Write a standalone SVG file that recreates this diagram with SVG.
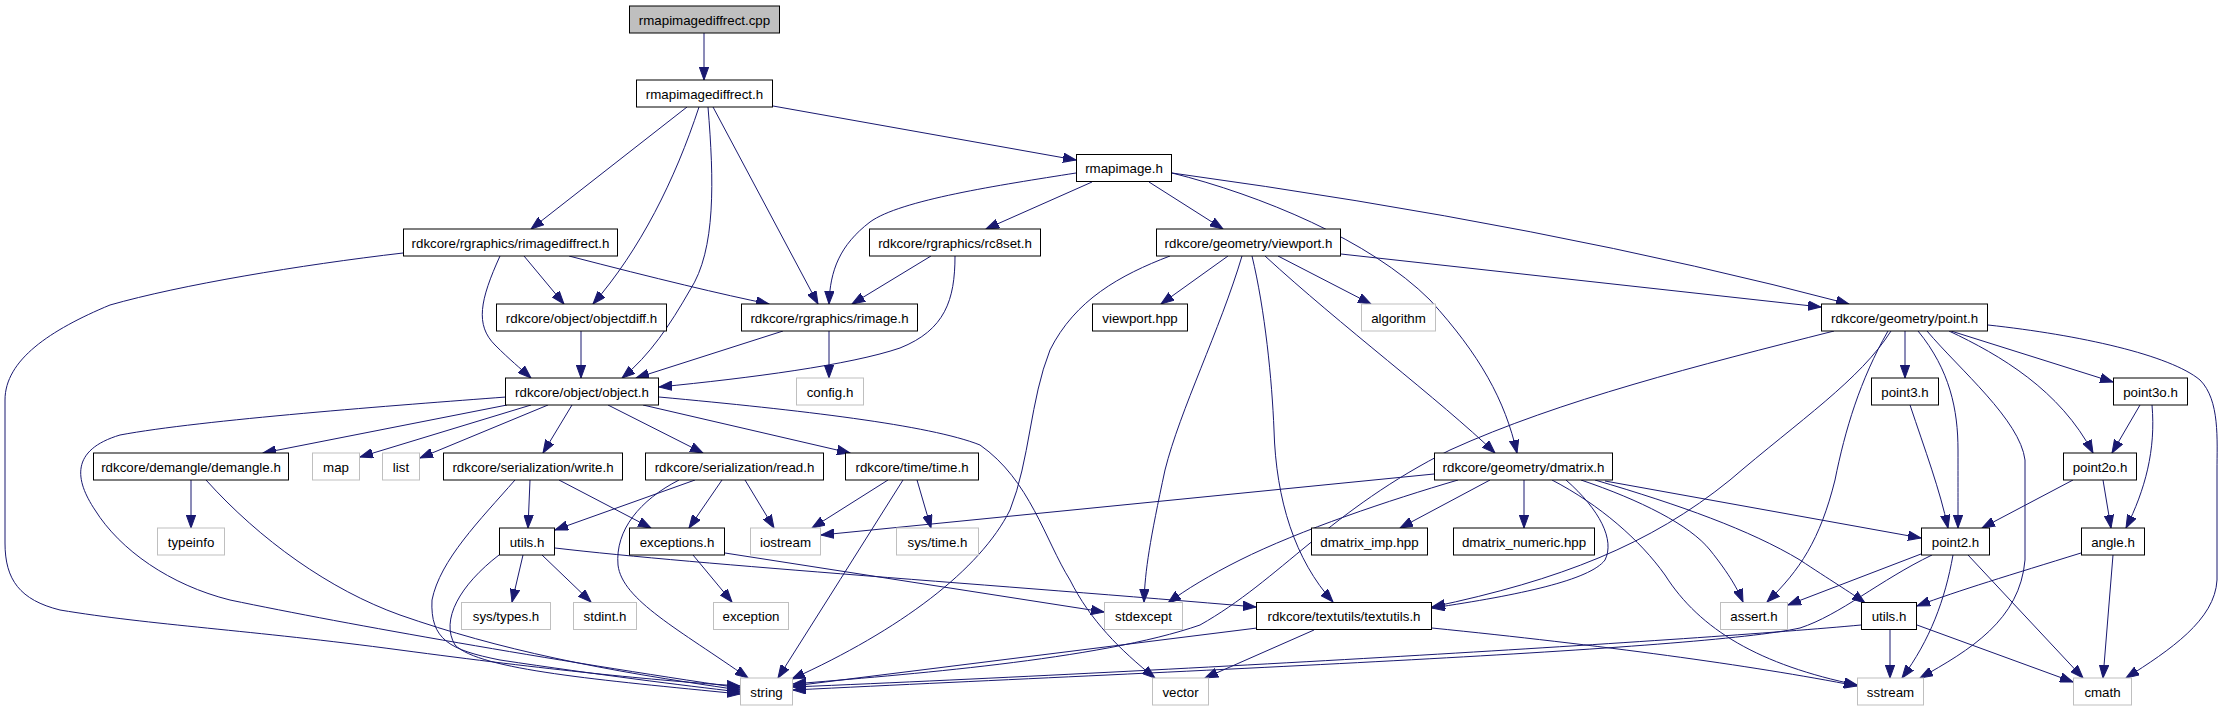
<svg xmlns="http://www.w3.org/2000/svg" width="2235" height="709" viewBox="0 0 2235 709">
<defs>
<style>
.n rect{fill:#fff;stroke:#000;stroke-width:1}
.x rect{stroke:#bfbfbf}
.r rect{fill:#bfbfbf}
text{font-family:"Liberation Sans",Arial,sans-serif;font-size:13.3px;text-anchor:middle;fill:#000}
#edges path{fill:none;stroke:#191970;stroke-width:1;marker-end:url(#a)}
</style>
<marker id="a" markerUnits="userSpaceOnUse" markerWidth="14" markerHeight="10" refX="13" refY="5" orient="auto" viewBox="0 0 14 10">
<path d="M0,0.3 L13,5 L0,9.7 z" fill="#191970" stroke="#191970" stroke-width="1"/>
</marker>
</defs>
<rect width="2235" height="709" fill="#fff"/>
<g id="edges">
<path d="M704,33 L704,80"/>
<path d="M687,107 L531,229"/>
<path d="M699,107 C675,180 640,250 593,304"/>
<path d="M708,107 C714,180 716,250 690,290 C670,325 650,355 622,378"/>
<path d="M713,107 L818,304"/>
<path d="M773,106 L1076,160"/>
<path d="M1076,173 C1000,185 900,200 870,222 C840,245 830,270 829,304"/>
<path d="M1092,182 L986,229"/>
<path d="M1149,182 L1223,229"/>
<path d="M1172,173 C1260,195 1370,240 1430,300 C1480,355 1505,400 1517,453"/>
<path d="M1172,173 Q1550,225 1849,304"/>
<path d="M403,253 C300,265 180,285 110,305 C50,330 5,360 5,400 L5,543 C5,580 20,600 60,610 C150,625 250,630 400,650 C550,670 650,680 740,686"/>
<path d="M524,256 L564,304"/>
<path d="M500,256 C480,300 475,325 495,345 C510,360 520,368 531,378"/>
<path d="M569,256 Q700,290 769,304"/>
<path d="M931,256 L852,304"/>
<path d="M955,256 C955,300 945,330 900,348 C850,365 750,378 659,387"/>
<path d="M1170,256 C1120,275 1075,300 1050,350 C1030,400 1030,460 1010,510 C980,570 900,630 792,679"/>
<path d="M1228,256 L1161,304"/>
<path d="M1242,256 C1220,330 1180,410 1165,470 C1150,540 1145,570 1144,602"/>
<path d="M1252,256 C1265,310 1272,380 1274,430 C1276,500 1295,560 1333,602"/>
<path d="M1265,256 C1340,325 1440,400 1495,453"/>
<path d="M1278,256 L1371,304"/>
<path d="M1341,254 L1821,307"/>
<path d="M581,331 L581,378"/>
<path d="M783,331 L636,378"/>
<path d="M829,331 L829,378"/>
<path d="M1834,331 C1700,365 1560,400 1450,450 C1330,510 1280,580 1200,625 C1100,660 900,675 793,684"/>
<path d="M1891,331 C1860,380 1800,420 1730,480 C1650,545 1560,580 1432,607"/>
<path d="M1905,331 L1905,378"/>
<path d="M1888,331 C1860,380 1845,430 1835,480 C1820,540 1800,570 1767,602"/>
<path d="M1918,331 C1950,370 1958,410 1958,450 C1958,490 1958,510 1958,528"/>
<path d="M1927,331 C1960,370 2020,420 2025,460 L2025,560 C2020,620 1970,650 1920,678"/>
<path d="M1951,331 L2113,382"/>
<path d="M1949,331 C2000,355 2060,390 2093,453"/>
<path d="M1988,325 C2080,335 2170,355 2200,380 C2220,400 2217,440 2217,470 L2217,580 C2215,620 2170,650 2126,678"/>
<path d="M506,397 C400,405 200,420 120,435 C70,450 75,480 95,510 C120,550 170,585 230,600 C350,625 550,660 740,688"/>
<path d="M507,405 L263,453"/>
<path d="M531,405 L360,457"/>
<path d="M548,405 L420,458"/>
<path d="M572,405 L543,453"/>
<path d="M608,405 L703,453"/>
<path d="M643,405 L850,453"/>
<path d="M659,397 C800,410 930,425 980,445 C1030,480 1045,540 1070,580 C1090,620 1120,650 1155,678"/>
<path d="M191,480 L191,528"/>
<path d="M206,480 C260,540 330,590 400,615 C500,650 600,670 740,690"/>
<path d="M515,480 C480,520 440,560 432,600 C430,640 450,650 500,660 C600,675 680,685 740,692"/>
<path d="M530,480 L528,528"/>
<path d="M559,480 L651,528"/>
<path d="M695,480 L555,530"/>
<path d="M722,480 L689,528"/>
<path d="M745,480 L774,528"/>
<path d="M679,480 C640,500 615,530 618,565 C622,600 680,630 748,678"/>
<path d="M888,480 L812,528"/>
<path d="M917,480 L931,528"/>
<path d="M903,480 Q840,580 778,678"/>
<path d="M499,555 C460,585 440,620 455,645 C480,670 600,680 740,694"/>
<path d="M523,555 L512,602"/>
<path d="M542,555 L591,602"/>
<path d="M555,548 C700,565 1000,585 1256,607"/>
<path d="M693,555 L732,602"/>
<path d="M725,553 L1104,612"/>
<path d="M1434,474 L821,535"/>
<path d="M1458,480 C1390,500 1300,530 1240,560 C1210,575 1185,590 1168,603"/>
<path d="M1490,480 L1400,528"/>
<path d="M1524,480 L1524,528"/>
<path d="M1566,480 C1600,510 1615,540 1605,560 C1590,580 1520,595 1432,608"/>
<path d="M1552,480 C1600,505 1640,540 1665,575 C1700,630 1760,665 1857,685"/>
<path d="M1581,480 C1640,500 1690,525 1710,550 C1730,575 1738,590 1743,602"/>
<path d="M1595,480 C1680,505 1750,530 1800,560 C1830,580 1850,592 1865,603"/>
<path d="M1605,481 L1921,538"/>
<path d="M1910,405 C1925,450 1940,490 1948,528"/>
<path d="M2140,405 L2112,453"/>
<path d="M2152,405 C2156,450 2145,490 2126,528"/>
<path d="M2073,480 L1982,528"/>
<path d="M2103,480 L2111,528"/>
<path d="M1921,554 L1788,605"/>
<path d="M1932,555 C1880,580 1840,615 1800,628 C1700,650 1200,670 793,690"/>
<path d="M1953,555 C1945,600 1930,640 1902,678"/>
<path d="M1968,555 L2083,678"/>
<path d="M2081,553 C2010,575 1960,590 1917,606"/>
<path d="M2113,555 L2103,678"/>
<path d="M1861,625 C1700,640 1200,670 793,687"/>
<path d="M1890,629 L1890,678"/>
<path d="M1917,625 L2073,682"/>
<path d="M1257,628 L793,686"/>
<path d="M1314,630 L1205,678"/>
<path d="M1432,628 C1600,645 1750,665 1857,686"/>
</g>
<g id="n_cpp" class="n r"><rect x="629.5" y="6" width="150" height="27"/><text x="704.5" y="24.7">rmapimagediffrect.cpp</text></g>
<g id="n_rmapimagediffrect" class="n"><rect x="636.5" y="80" width="136" height="27"/><text x="704.5" y="98.7">rmapimagediffrect.h</text></g>
<g id="n_rmapimage" class="n"><rect x="1076.5" y="154.5" width="95" height="27"/><text x="1124" y="173.2">rmapimage.h</text></g>
<g id="n_rimagediffrect" class="n"><rect x="403.5" y="229" width="214" height="27"/><text x="510.5" y="247.7">rdkcore/rgraphics/rimagediffrect.h</text></g>
<g id="n_rc8set" class="n"><rect x="869.5" y="229" width="171" height="27"/><text x="955" y="247.7">rdkcore/rgraphics/rc8set.h</text></g>
<g id="n_viewport" class="n"><rect x="1156.5" y="229" width="184" height="27"/><text x="1248.5" y="247.7">rdkcore/geometry/viewport.h</text></g>
<g id="n_objectdiff" class="n"><rect x="496.5" y="304" width="170" height="27"/><text x="581.5" y="322.7">rdkcore/object/objectdiff.h</text></g>
<g id="n_rimage" class="n"><rect x="741.5" y="304" width="176" height="27"/><text x="829.5" y="322.7">rdkcore/rgraphics/rimage.h</text></g>
<g id="n_viewporthpp" class="n"><rect x="1092.5" y="304" width="95" height="27"/><text x="1140" y="322.7">viewport.hpp</text></g>
<g id="n_algorithm" class="n x"><rect x="1361.5" y="304" width="74" height="27"/><text x="1398.5" y="322.7">algorithm</text></g>
<g id="n_point" class="n"><rect x="1821.5" y="304" width="166" height="27"/><text x="1904.5" y="322.7">rdkcore/geometry/point.h</text></g>
<g id="n_object" class="n"><rect x="505.5" y="378" width="153" height="27"/><text x="582" y="396.7">rdkcore/object/object.h</text></g>
<g id="n_config" class="n x"><rect x="796.5" y="378" width="67" height="27"/><text x="830" y="396.7">config.h</text></g>
<g id="n_point3" class="n"><rect x="1871.5" y="378" width="67" height="27"/><text x="1905" y="396.7">point3.h</text></g>
<g id="n_point3o" class="n"><rect x="2113.5" y="378" width="74" height="27"/><text x="2150.5" y="396.7">point3o.h</text></g>
<g id="n_demangle" class="n"><rect x="93.5" y="453" width="195" height="27"/><text x="191" y="471.7">rdkcore/demangle/demangle.h</text></g>
<g id="n_map" class="n x"><rect x="312.5" y="453" width="47" height="27"/><text x="336" y="471.7">map</text></g>
<g id="n_list" class="n x"><rect x="382.5" y="453" width="37" height="27"/><text x="401" y="471.7">list</text></g>
<g id="n_write" class="n"><rect x="443.5" y="453" width="179" height="27"/><text x="533" y="471.7">rdkcore/serialization/write.h</text></g>
<g id="n_read" class="n"><rect x="645.5" y="453" width="178" height="27"/><text x="734.5" y="471.7">rdkcore/serialization/read.h</text></g>
<g id="n_time" class="n"><rect x="845.5" y="453" width="133" height="27"/><text x="912" y="471.7">rdkcore/time/time.h</text></g>
<g id="n_dmatrix" class="n"><rect x="1434.5" y="453" width="178" height="27"/><text x="1523.5" y="471.7">rdkcore/geometry/dmatrix.h</text></g>
<g id="n_point2o" class="n"><rect x="2063.5" y="453" width="73" height="27"/><text x="2100" y="471.7">point2o.h</text></g>
<g id="n_typeinfo" class="n x"><rect x="157.5" y="528" width="67" height="27"/><text x="191" y="546.7">typeinfo</text></g>
<g id="n_utils" class="n"><rect x="499.5" y="528" width="55" height="27"/><text x="527" y="546.7">utils.h</text></g>
<g id="n_exceptions" class="n"><rect x="629.5" y="528" width="95" height="27"/><text x="677" y="546.7">exceptions.h</text></g>
<g id="n_iostream" class="n x"><rect x="750.5" y="528" width="70" height="27"/><text x="785.5" y="546.7">iostream</text></g>
<g id="n_systime" class="n x"><rect x="896.5" y="528" width="82" height="27"/><text x="937.5" y="546.7">sys/time.h</text></g>
<g id="n_dmatrix_imp" class="n"><rect x="1311.5" y="528" width="116" height="27"/><text x="1369.5" y="546.7">dmatrix_imp.hpp</text></g>
<g id="n_dmatrix_numeric" class="n"><rect x="1453.5" y="528" width="141" height="27"/><text x="1524" y="546.7">dmatrix_numeric.hpp</text></g>
<g id="n_point2" class="n"><rect x="1921.5" y="528" width="68" height="27"/><text x="1955.5" y="546.7">point2.h</text></g>
<g id="n_angle" class="n"><rect x="2081.5" y="528" width="63" height="27"/><text x="2113" y="546.7">angle.h</text></g>
<g id="n_systypes" class="n x"><rect x="461.5" y="602.5" width="89" height="27"/><text x="506" y="621.2">sys/types.h</text></g>
<g id="n_stdint" class="n x"><rect x="573.5" y="602.5" width="63" height="27"/><text x="605" y="621.2">stdint.h</text></g>
<g id="n_exception" class="n x"><rect x="713.5" y="602.5" width="75" height="27"/><text x="751" y="621.2">exception</text></g>
<g id="n_stdexcept" class="n x"><rect x="1104.5" y="602.5" width="78" height="27"/><text x="1143.5" y="621.2">stdexcept</text></g>
<g id="n_textutils" class="n"><rect x="1256.5" y="602.5" width="175" height="27"/><text x="1344" y="621.2">rdkcore/textutils/textutils.h</text></g>
<g id="n_assert" class="n x"><rect x="1720.5" y="602.5" width="67" height="27"/><text x="1754" y="621.2">assert.h</text></g>
<g id="n_utils2" class="n"><rect x="1861.5" y="602.5" width="55" height="27"/><text x="1889" y="621.2">utils.h</text></g>
<g id="n_string" class="n x"><rect x="740.5" y="678" width="52" height="27"/><text x="766.5" y="696.7">string</text></g>
<g id="n_vector" class="n x"><rect x="1152.5" y="678" width="56" height="27"/><text x="1180.5" y="696.7">vector</text></g>
<g id="n_sstream" class="n x"><rect x="1857.5" y="678" width="66" height="27"/><text x="1890.5" y="696.7">sstream</text></g>
<g id="n_cmath" class="n x"><rect x="2073.5" y="678" width="58" height="27"/><text x="2102.5" y="696.7">cmath</text></g>
</svg>
